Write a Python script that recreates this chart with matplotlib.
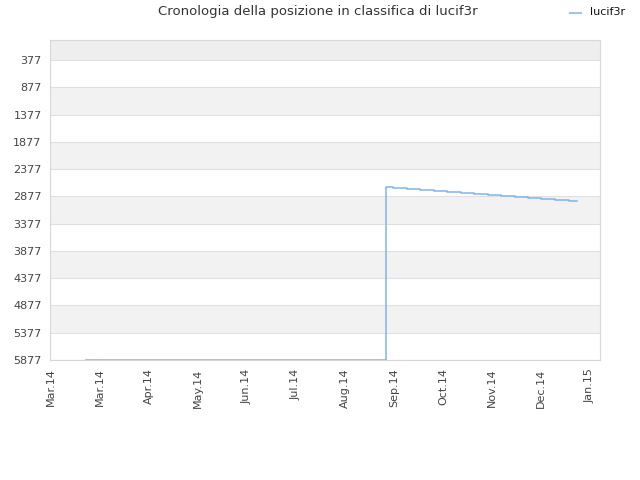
import numpy as np
import matplotlib.pyplot as plt

# etichette asse x (un tick per mese)
month_labels = ['Mar.14', 'Mar.14', 'Apr.14', 'May.14', 'Jun.14', 'Jul.14',
                'Aug.14', 'Sep.14', 'Oct.14', 'Nov.14', 'Dec.14', 'Jan.15']
y_ticks = [377, 877, 1377, 1877, 2377, 2877, 3377, 3877, 4377, 4877, 5377, 5877]

# posizione in classifica (x in mesi dal primo tick)
pos_x = [0.71, 6.84, 6.97, 7.26, 7.53, 7.82, 8.09, 8.37, 8.64, 8.92, 9.18,
         9.47, 9.74, 10.01, 10.29, 10.58, 10.73]
pos_y = [5877, 2711, 2729, 2748, 2766, 2784, 2803, 2821, 2839, 2858, 2876,
         2894, 2913, 2931, 2949, 2968, 2968]

fig = plt.figure(figsize=(6.4, 4.8), dpi=100)
ax = fig.add_axes([50 / 640, 120 / 480, 550 / 640, 320 / 480])

y_top = 10
y_bot = 5877

# bande alternate
edges = [y_top] + y_ticks
for i in range(len(edges) - 1):
    if i % 2 == 0:
        col = '#eeeeee' if i == 0 else '#f2f2f2'
        ax.axhspan(edges[i], edges[i + 1], color=col, lw=0, zorder=0)

for t in y_ticks:
    ax.axhline(t, color='#e0e0e0', lw=0.8, zorder=1)

ax.plot(pos_x, pos_y, drawstyle='steps-post', color='#7cb5ec', lw=1.1, zorder=3)

ax.set_ylim(y_bot, y_top)
ax.set_xlim(-0.02, 11.204)
ax.set_yticks(y_ticks)
ax.set_yticklabels([str(t) for t in y_ticks], fontsize=8, color='#444444')
ax.set_xticks(range(len(month_labels)))
ax.set_xticklabels(month_labels, rotation=90, fontsize=8, color='#444444')
ax.tick_params(length=0, pad=6)

for s in ax.spines.values():
    s.set_color('#d8d8d8')
    s.set_linewidth(0.8)

fig.text(318 / 640, 1 - 12 / 480, 'Cronologia della posizione in classifica di lucif3r',
         ha='center', va='center', fontsize=9.5, color='#333333')
fig.lines.append(plt.Line2D([570 / 640, 581 / 640], [1 - 13 / 480, 1 - 13 / 480],
                            transform=fig.transFigure, color='#99c5f0', lw=1.5))
fig.text(590 / 640, 1 - 12 / 480, 'lucif3r', ha='left', va='center',
         fontsize=8, color='#111111')

fig.savefig('out.png', dpi=100)
